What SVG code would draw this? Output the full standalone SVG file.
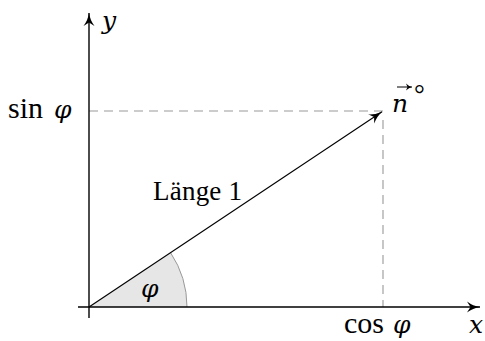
<svg xmlns="http://www.w3.org/2000/svg" width="485" height="341" viewBox="0 0 485 341">
<style>
.ax{stroke:#000;stroke-width:1.4;fill:none}
.ds{stroke:#999;stroke-width:1.1;stroke-dasharray:9,6;fill:none}
.t{font-family:"Liberation Serif","DejaVu Serif",serif;font-size:27px;fill:#000}
.f{font-size:30px}
.i{font-family:"DejaVu Serif","Liberation Serif",serif;font-style:italic;font-size:25px}
</style>
<defs>
<marker id="ah" markerWidth="16" markerHeight="12" refX="13" refY="6" orient="auto" markerUnits="userSpaceOnUse">
<path d="M0,0.5 Q6,5 13,6 Q6,7 0,11.5 L3.5,6 Z" fill="#000"/>
</marker>
<marker id="sa" markerWidth="8" markerHeight="8" refX="6" refY="4" orient="auto" markerUnits="userSpaceOnUse">
<path d="M0,0.5 Q3,3.5 6,4 Q3,4.5 0,7.5 L1.5,4 Z" fill="#000"/>
</marker>
</defs>
<g id="angle">
<path d="M89,307 L170.5,252.6 A98,98 0 0 1 187,307 Z" fill="#e6e6e6" stroke="none"/>
<path d="M170.5,252.6 A98,98 0 0 1 187,307" fill="none" stroke="#999" stroke-width="1"/>
</g>
<g id="connectors">
<path class="ds" d="M89,111 H383"/>
<path class="ds" d="M383,120 V307"/>
<path class="ax" d="M78,307 H480" marker-end="url(#ah)"/>
<path class="ax" d="M89,318 V13" marker-end="url(#ah)"/>
<path d="M89,307 L382,111.7" stroke="#000" stroke-width="1.1" fill="none" marker-end="url(#ah)"/>
</g>
<g id="labels">
<text class="t i" x="102" y="29">y</text>
<text class="t i" x="469" y="333">x</text>
<text class="t f" x="8" y="118">sin <tspan class="i" x="54">φ</tspan></text>
<text class="t f" x="344" y="333">cos <tspan class="i" x="393">φ</tspan></text>
<text class="t" x="153" y="200" textLength="89" lengthAdjust="spacing">Länge 1</text>
<text class="t i" x="141" y="297">φ</text>
<text class="t i" x="392" y="112" font-size="27">n</text>
<path d="M397,87 H412" stroke="#000" stroke-width="1" fill="none" marker-end="url(#sa)"/>
<text class="t" x="414" y="103" font-size="20">°</text>
</g>
</svg>
